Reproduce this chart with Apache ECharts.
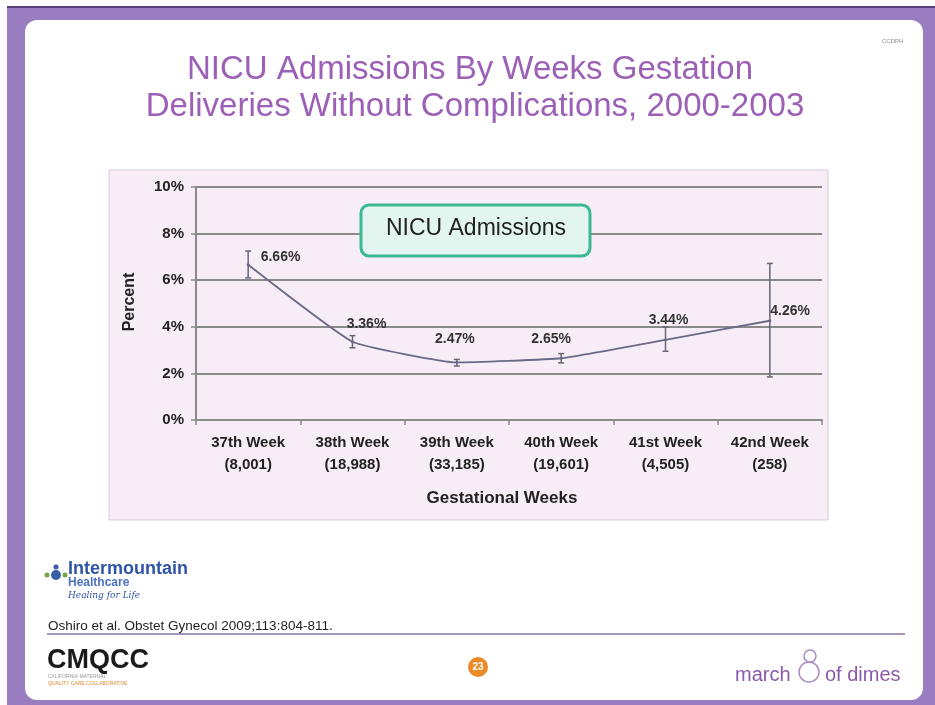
<!DOCTYPE html>
<html>
<head>
<meta charset="utf-8">
<script src="https://cdn.jsdelivr.net/npm/echarts@6/dist/echarts.min.js"></script>
<style>
  html, body { margin: 0; padding: 0; background: #ffffff; }
  #chart { width: 935px; height: 705px; }
</style>
</head>
<body>
<div id="chart"></div>
<script>
// Gestational week categories and number of deliveries in each
const weeks = ['37th Week', '38th Week', '39th Week', '40th Week', '41st Week', '42nd Week'];
const deliveries = ['(8,001)', '(18,988)', '(33,185)', '(19,601)', '(4,505)', '(258)'];
// NICU admission rate (%) per week
const nicuRate = [6.66, 3.36, 2.47, 2.65, 3.44, 4.26];
// 95% confidence interval bounds (%)
const ciLow = [6.1, 3.1, 2.32, 2.45, 2.95, 1.85];
const ciHigh = [7.25, 3.62, 2.6, 2.85, 4.0, 6.72];
const yTicks = [0, 2, 4, 6, 8, 10];

const purple = '#9c60b6';
const frame = '#9a7cc0';
const FONT = 'Liberation Sans, Arial, sans-serif';

const categories = weeks.map((w, i) => w + '\n' + deliveries[i]);
const ciData = weeks.map((w, i) => [i, ciLow[i], ciHigh[i]]);

// label offsets for each point's value text
const labelPos = [
  { position: 'right', offset: [6, -8] },
  { position: 'top', offset: [14, -4] },
  { position: 'top', offset: [-2, -10] },
  { position: 'top', offset: [-10, -6] },
  { position: 'top', offset: [3, -6] },
  { position: 'right', offset: [-6, -10] }
];

const chart = echarts.init(document.getElementById('chart'));

const option = {
  backgroundColor: '#ffffff',
  animation: false,
  textStyle: { fontFamily: FONT },
  graphic: [
    // slide frame
    { type: 'rect', z: -20, silent: true,
      shape: { x: 7, y: 7, width: 928, height: 698 },
      style: { fill: frame } },
    { type: 'rect', z: -20, silent: true,
      shape: { x: 7, y: 6, width: 928, height: 2 },
      style: { fill: '#5a3f78' } },
    { type: 'rect', z: -19, silent: true,
      shape: { x: 25, y: 20, width: 898, height: 680, r: 12 },
      style: { fill: '#ffffff' } },
    // chart panel
    { type: 'rect', z: -18, silent: true,
      shape: { x: 109, y: 170, width: 719, height: 350 },
      style: { fill: '#f7edf6', stroke: '#d8c8dc', lineWidth: 1 } },
    // titles
    { type: 'text', x: 470, y: 70, silent: true,
      style: { text: 'NICU Admissions By Weeks Gestation', fill: purple,
        align: 'center', verticalAlign: 'middle', font: '33px ' + FONT } },
    { type: 'text', x: 475, y: 107, silent: true,
      style: { text: 'Deliveries Without Complications, 2000-2003', fill: purple,
        align: 'center', verticalAlign: 'middle', font: '33px ' + FONT } },
    { type: 'text', x: 882, y: 38, silent: true,
      style: { text: 'CCDPH', fill: '#8a8a8a', font: '6px ' + FONT } },
    // series tag box
    { type: 'rect', z: 10, silent: true,
      shape: { x: 361, y: 205, width: 229, height: 51, r: 8 },
      style: { fill: '#e2f5ee', stroke: '#3bb894', lineWidth: 3 } },
    { type: 'text', z: 11, x: 476, y: 229, silent: true,
      style: { text: 'NICU Admissions', fill: '#222222', align: 'center', verticalAlign: 'middle',
        font: '23px ' + FONT } },
    // axis titles
    { type: 'text', x: 130, y: 302, rotation: Math.PI / 2, silent: true,
      style: { text: 'Percent', fill: '#222222', align: 'center', verticalAlign: 'middle',
        font: 'bold 16px ' + FONT } },
    { type: 'text', x: 502, y: 498, silent: true,
      style: { text: 'Gestational Weeks', fill: '#222222', align: 'center', verticalAlign: 'middle',
        font: 'bold 17px ' + FONT } },
    // Intermountain Healthcare mark
    { type: 'circle', silent: true, shape: { cx: 56, cy: 575, r: 5 }, style: { fill: '#3a5da8' } },
    { type: 'circle', silent: true, shape: { cx: 56, cy: 567, r: 2.5 }, style: { fill: '#3a5da8' } },
    { type: 'circle', silent: true, shape: { cx: 47, cy: 575, r: 2.5 }, style: { fill: '#7aa04a' } },
    { type: 'circle', silent: true, shape: { cx: 65, cy: 575, r: 2.5 }, style: { fill: '#7aa04a' } },
    { type: 'text', x: 68, y: 560, silent: true,
      style: { text: 'Intermountain', fill: '#2f56a6', font: 'bold 18px ' + FONT } },
    { type: 'text', x: 68, y: 577, silent: true,
      style: { text: 'Healthcare', fill: '#4a72c0', font: 'bold 12px ' + FONT } },
    { type: 'text', x: 68, y: 591, silent: true,
      style: { text: 'Healing for Life', fill: '#2f56a6', font: 'italic 9px DejaVu Serif, serif' } },
    // citation
    { type: 'text', x: 48, y: 619, silent: true,
      style: { text: 'Oshiro et al. Obstet Gynecol 2009;113:804-811.', fill: '#222222',
        font: '13.5px ' + FONT } },
    { type: 'line', silent: true, shape: { x1: 47, y1: 634, x2: 905, y2: 634 },
      style: { stroke: '#8a70aa', lineWidth: 1.5 } },
    // CMQCC mark
    { type: 'text', x: 47, y: 647, silent: true,
      style: { text: 'CMQCC', fill: '#1a1a1a', font: 'bold 27px ' + FONT } },
    { type: 'text', x: 48, y: 674, silent: true,
      style: { text: 'CALIFORNIA MATERNAL', fill: '#9a9a9a', font: '5px ' + FONT } },
    { type: 'text', x: 48, y: 681, silent: true,
      style: { text: 'QUALITY CARE COLLABORATIVE', fill: '#e08a3a', font: '5px ' + FONT } },
    // page number
    { type: 'circle', silent: true, shape: { cx: 478, cy: 667, r: 10 }, style: { fill: '#ec8a28' } },
    { type: 'text', x: 478, y: 667, silent: true,
      style: { text: '23', fill: '#ffffff', align: 'center', verticalAlign: 'middle',
        font: 'bold 10px ' + FONT } },
    // march of dimes mark
    { type: 'text', x: 735, y: 675, silent: true,
      style: { text: 'march', fill: '#8a5aa8', verticalAlign: 'middle', font: '20px ' + FONT } },
    { type: 'circle', silent: true, shape: { cx: 809, cy: 672, r: 10 },
      style: { fill: 'none', stroke: '#a88cc4', lineWidth: 1.5 } },
    { type: 'circle', silent: true, shape: { cx: 810, cy: 656, r: 6 },
      style: { fill: 'none', stroke: '#a88cc4', lineWidth: 1.5 } },
    { type: 'text', x: 825, y: 675, silent: true,
      style: { text: 'of dimes', fill: '#8a5aa8', verticalAlign: 'middle', font: '20px ' + FONT } }
  ],
  grid: { left: 196, right: 113, top: 187, bottom: 285, containLabel: false },
  xAxis: {
    type: 'category',
    data: categories,
    boundaryGap: true,
    axisLine: { lineStyle: { color: '#8a8a8a', width: 2 } },
    axisTick: { show: true, length: 5, lineStyle: { color: '#8a8a8a', width: 1.5 } },
    axisLabel: {
      color: '#222222', fontWeight: 'bold', fontSize: 15, lineHeight: 22, margin: 12
    },
    splitLine: { show: false }
  },
  yAxis: {
    type: 'value',
    min: yTicks[0],
    max: yTicks[yTicks.length - 1],
    interval: 2,
    axisLine: { show: true, lineStyle: { color: '#8a8a8a', width: 2 } },
    axisTick: { show: true, length: 5, lineStyle: { color: '#8a8a8a', width: 1.5 } },
    axisLabel: {
      color: '#222222', fontWeight: 'bold', fontSize: 15, margin: 12,
      formatter: v => v + '%'
    },
    splitLine: { show: true, lineStyle: { color: '#8a8a8a', width: 2 } }
  },
  series: [
    {
      type: 'custom',
      name: 'CI',
      z: 3,
      renderItem: function (params, api) {
        const x = api.value(0);
        const lo = api.coord([x, api.value(1)]);
        const hi = api.coord([x, api.value(2)]);
        const cap = 3;
        const st = { stroke: '#666677', lineWidth: 1.5 };
        return {
          type: 'group',
          children: [
            { type: 'line', shape: { x1: lo[0], y1: lo[1], x2: hi[0], y2: hi[1] }, style: st },
            { type: 'line', shape: { x1: lo[0] - cap, y1: lo[1], x2: lo[0] + cap, y2: lo[1] }, style: st },
            { type: 'line', shape: { x1: hi[0] - cap, y1: hi[1], x2: hi[0] + cap, y2: hi[1] }, style: st }
          ]
        };
      },
      data: ciData
    },
    {
      type: 'line',
      name: 'NICU Admissions',
      z: 4,
      data: nicuRate.map((v, i) => ({
        value: v,
        label: { show: true, position: labelPos[i].position, offset: labelPos[i].offset }
      })),
      smooth: 0.12,
      symbol: 'circle',
      symbolSize: 3,
      itemStyle: { color: '#6a6a86' },
      lineStyle: { color: '#6a6a86', width: 1.8 },
      label: {
        show: true,
        color: '#333333', fontWeight: 'bold', fontSize: 14,
        formatter: p => p.value.toFixed(2) + '%'
      }
    }
  ]
};

chart.setOption(option);
</script>
</body>
</html>
